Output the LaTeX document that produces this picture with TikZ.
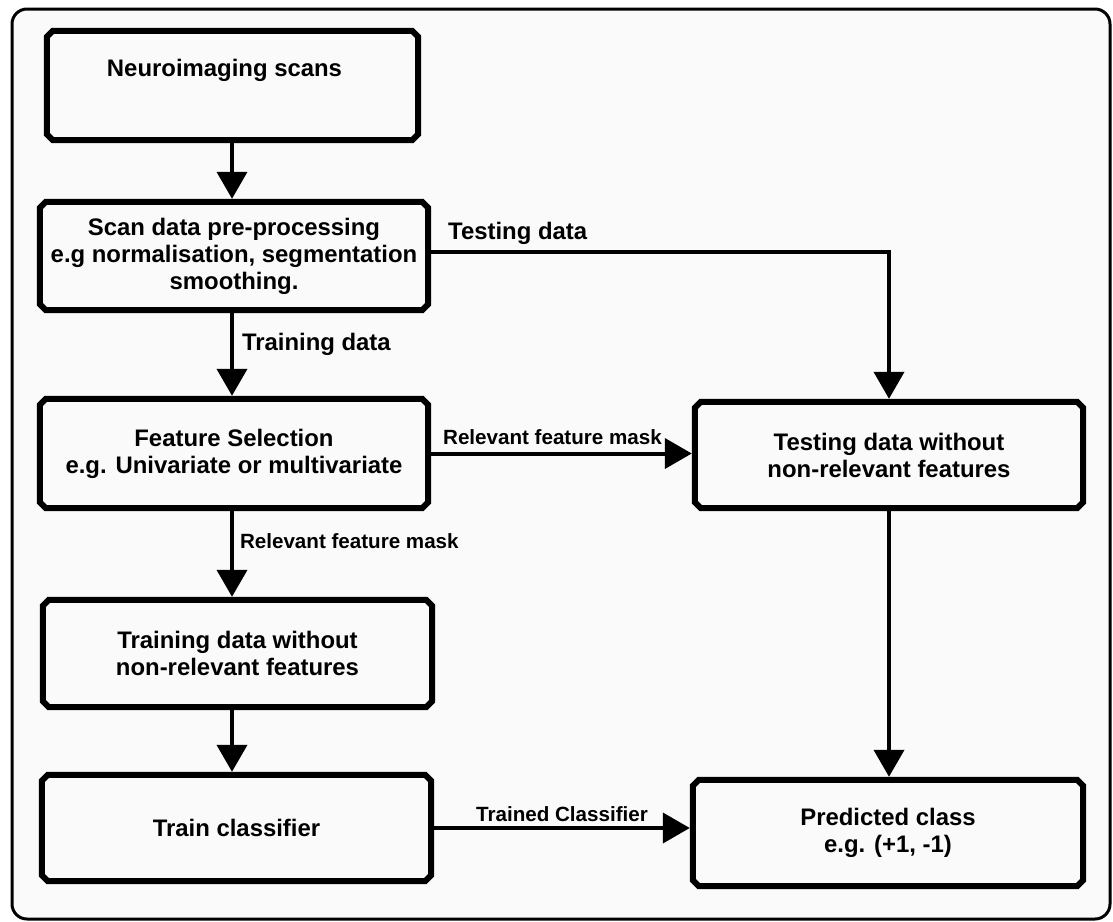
\documentclass[tikz,border=0pt]{standalone}
\usepackage{fontspec}
\setmainfont{Liberation Sans}
\usetikzlibrary{arrows.meta}
\definecolor{bgc}{HTML}{FAFAFA}
\newcommand\mainfs{\fontsize{23.9}{27}\selectfont\bfseries}
\newcommand\lblfs{\fontsize{20.6}{24}\selectfont\bfseries}
\tikzset{
  box/.style={draw=none, inner sep=0pt, align=center, font=\mainfs},
  boxline/.style={line width=6pt, line join=miter},
  arr/.style={line width=4pt, -{Triangle[width=30pt,length=27pt]}},
  lbl/.style={inner sep=0pt, font=\mainfs},
  slbl/.style={inner sep=0pt, font=\lblfs},
  frame/.style={line width=3pt, rounded corners=15pt, fill=bgc}
}
\begin{document}
\begin{tikzpicture}[x=1pt,y=-1pt]
\useasboundingbox (0,0) rectangle (1113,921);
\draw[frame] (12,9) rectangle (1110,919);

\node[box, minimum width=377pt, minimum height=115pt] (b1) at (232.5,85.5) {Neuroimaging scans\hspace*{16pt}\\ \strut};
\node[box, minimum width=394pt, minimum height=114pt] (b2) at (234,256) {Scan data pre-processing\\e.g normalisation, segmentation\\smoothing.};
\node[box, minimum width=394pt, minimum height=115pt] (b3) at (234,453.5) {Feature Selection\\e.g. Univariate or multivariate};
\node[box, minimum width=395pt, minimum height=113pt] (b4) at (237.5,653.5) {Training data without\\non-relevant features};
\node[box, minimum width=395pt, minimum height=112pt] (b5) at (236.5,828) {Train classifier};
\node[box, minimum width=394pt, minimum height=112pt] (b6) at (889,455) {Testing data without\\non-relevant features};
\node[box, minimum width=396pt, minimum height=112pt] (b7) at (888,833) {Predicted class\\e.g. (+1, -1)};

\foreach \n in {b1,b2,b3,b4,b5,b6,b7}{
  \draw[boxline] ([shift={(9,3)}]\n.north west) -- ([shift={(-9,3)}]\n.north east)
    -- ([shift={(-3,9)}]\n.north east) -- ([shift={(-3,-9)}]\n.south east)
    -- ([shift={(-9,-3)}]\n.south east) -- ([shift={(9,-3)}]\n.south west)
    -- ([shift={(3,-9)}]\n.south west) -- ([shift={(3,9)}]\n.north west) -- cycle;
}

\coordinate (lx) at (232,0);
\draw[arr] (lx |- b1.south) -- (lx |- b2.north);
\draw[arr] (lx |- b2.south) -- node[lbl, pos=0.45, anchor=base west, xshift=8pt]{Training data} (lx |- b3.north);
\draw[arr] (lx |- b3.south) -- node[slbl, pos=0.43, anchor=base west, xshift=6pt]{Relevant feature mask} (lx |- b4.north);
\draw[arr] (lx |- b4.south) -- (lx |- b5.north);

\draw[arr, line join=miter] ([yshift=4pt]b2.east) -| node[lbl, pos=0, anchor=base west, xshift=15pt, yshift=13pt]{Testing data} (b6.north);
\draw[arr] (b3.east) -- node[slbl, midway, anchor=base, yshift=9pt, xshift=-9pt]{Relevant feature mask} (b3.east -| b6.west);
\draw[arr] (b6.south) -- (b6.south |- b7.north);
\draw[arr] (b5.east) -- node[slbl, midway, anchor=base, yshift=7pt]{Trained Classifier} (b5.east -| b7.west);
\end{tikzpicture}
\end{document}
